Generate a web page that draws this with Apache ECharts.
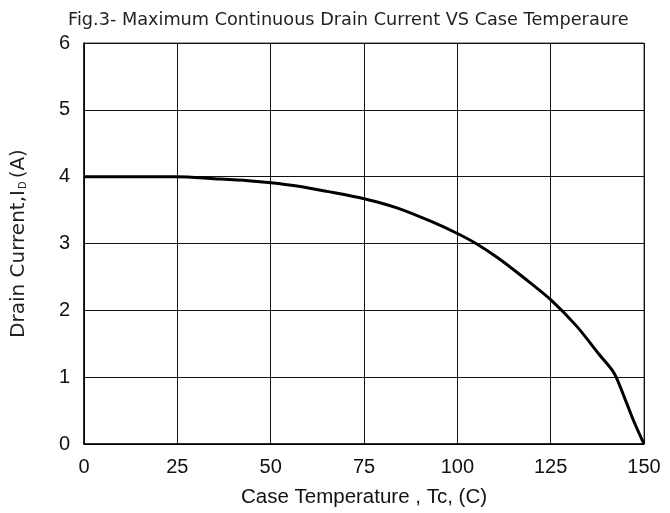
<!DOCTYPE html>
<html>
<head>
<meta charset="utf-8">
<script src="https://cdn.jsdelivr.net/npm/echarts@6/dist/echarts.min.js"></script>
<style>
  html, body { margin: 0; padding: 0; background: #fff; }
  #chart { width: 670px; height: 513px; }
</style>
</head>
<body>
<div id="chart"></div>
<script>
'use strict';
// case temperature (C) and drain current (A)
var temps = [0, 10, 25, 35, 44, 50, 57, 65, 75, 84, 93, 100, 105, 111, 118, 125, 132, 138, 142, 145, 147.5, 150];
var currents = [4.0, 4.0, 4.0, 3.97, 3.94, 3.91, 3.86, 3.78, 3.67, 3.53, 3.33, 3.15, 3.0, 2.78, 2.48, 2.16, 1.76, 1.34, 1.06, 0.66, 0.31, 0];
var xTicks = [0, 25, 50, 75, 100, 125, 150];
var yTicks = [0, 1, 2, 3, 4, 5, 6];

var points = [];
for (var i = 0; i < temps.length; i++) {
  points.push([temps[i], currents[i]]);
}

var chart = echarts.init(document.getElementById('chart'), null, { renderer: 'canvas' });
var gridLine = { show: true, lineStyle: { color: '#111', width: 1 } };

chart.setOption({
  backgroundColor: '#fff',
  animation: false,
  title: {
    text: 'Fig.3- Maximum Continuous Drain Current VS Case Temperaure',
    left: 63,
    top: 6,
    textStyle: { fontFamily: 'DejaVu Sans, sans-serif', fontSize: 17.7, fontWeight: 'normal', color: '#231f20' }
  },
  grid: { left: 84, top: 43, width: 560, height: 401, show: true, borderColor: '#444', borderWidth: 1 },
  xAxis: {
    type: 'value',
    min: xTicks[0],
    max: xTicks[xTicks.length - 1],
    interval: 25,
    name: 'Case Temperature , Tc, (C)',
    nameLocation: 'middle',
    nameGap: 43,
    nameTextStyle: { fontFamily: 'Liberation Sans, Arial, sans-serif', fontSize: 20.5, color: '#111' },
    axisLine: { show: true, lineStyle: { color: '#000', width: 1.5 } },
    axisTick: { show: false },
    axisLabel: { fontFamily: 'Liberation Sans, Arial, sans-serif', fontSize: 20, color: '#111', margin: 13 },
    splitLine: gridLine
  },
  yAxis: {
    type: 'value',
    min: yTicks[0],
    max: yTicks[yTicks.length - 1],
    interval: 1,
    name: '{n|Drain Current,I}{s|D}{n|(A)}',
    nameLocation: 'middle',
    nameGap: 55,
    nameTextStyle: {
      rich: {
        n: { fontFamily: 'DejaVu Sans, sans-serif', fontSize: 20, color: '#231f20' },
        s: { fontFamily: 'DejaVu Sans, sans-serif', fontSize: 10, color: '#231f20', padding: [8, 3, 0, 1] }
      }
    },
    axisLine: { show: true, lineStyle: { color: '#000', width: 1.5 } },
    axisTick: { show: false },
    axisLabel: { fontFamily: 'Liberation Sans, Arial, sans-serif', fontSize: 20, color: '#111', margin: 14 },
    splitLine: gridLine
  },
  series: [{
    type: 'line',
    data: points,
    smooth: 0.3,
    symbol: 'none',
    lineStyle: { color: '#000', width: 3 },
    z: 5
  }]
});
</script>
</body>
</html>
